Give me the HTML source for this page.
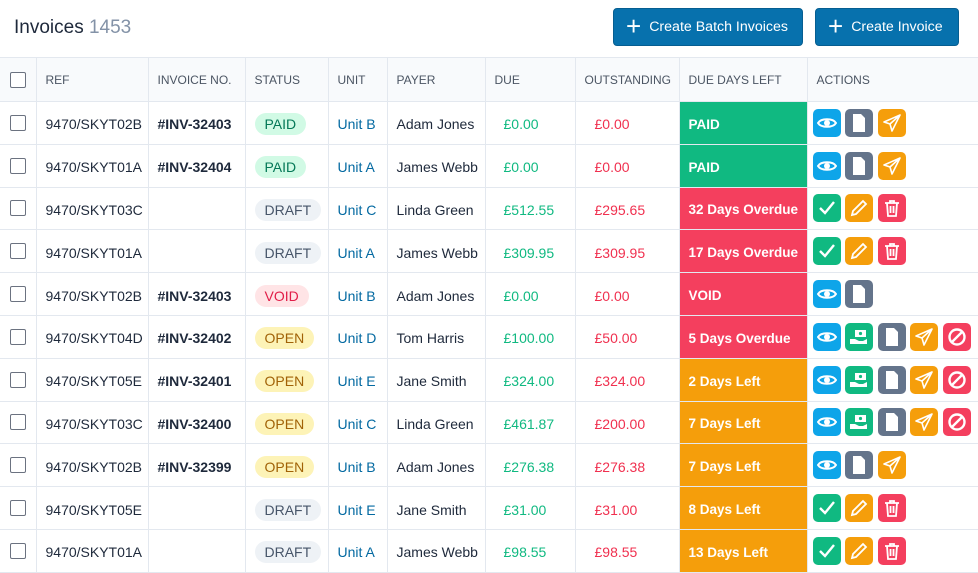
<!DOCTYPE html>
<html><head><meta charset="utf-8"><style>
*{box-sizing:border-box;margin:0;padding:0}
body{width:978px;height:567px;overflow:hidden;background:#fff;font-family:"Liberation Sans",sans-serif;color:#1e293b;position:relative}
.title{position:absolute;left:14px;top:17px;font-size:19px;color:#1e293b}
.title span{color:#8392a7}
.btn{position:absolute;top:8px;height:38px;background:#0771ad;border:1px solid #065e91;border-radius:4px;color:#fff;font-size:14.2px;display:flex;align-items:center;padding-left:12px}
.btn b{font-weight:normal;font-size:26px;margin-right:8px;line-height:1;margin-top:-3px}
table{position:absolute;left:0;top:57px;border-collapse:collapse;table-layout:fixed;width:979px}
td,th{border:1.5px solid #e3e8ef;height:42.8px;font-size:14px;white-space:nowrap;overflow:hidden;padding:3px 0 0 9px;vertical-align:middle}
th{background:#f8fafc;font-weight:normal;color:#4b5563;font-size:12px;text-align:left;height:44px;padding-top:0}
tr td:first-child,tr th:first-child{border-left:none;padding:0 0 0 10px}
.cb{width:16px;height:16px;border:1.5px solid #6b7280;border-radius:2px;background:#fff;display:block}
.b{font-weight:bold}
.pill{display:inline-block;padding:3px 10px;border-radius:12px;font-size:14px}
.paid{background:#d1fae5;color:#047857}.draft{background:#eef2f6;color:#475569}.void{background:#ffe4e6;color:#e11d48}.open{background:#fdf3b7;color:#a16207}
.u{color:#0369a1}
.g{color:#10b981;padding-left:18px}.r{color:#f0304f;padding-left:19px}
td.dd{color:#fff;font-weight:bold;padding-left:9px;font-size:13.5px}
.dg{background:#10b981}.dr{background:#f43f5e}.da{background:#f59e0b}
.ic{display:inline-block;width:28px;height:28px;border-radius:5px;margin-right:4.5px;vertical-align:middle;position:relative}
.ic svg{position:absolute;left:4px;top:4px}
.bl{background:#0ea5e9}.gr{background:#10b981}.sl{background:#64748b}.am{background:#f59e0b}.rd{background:#f43f5e}
td.act{padding:0 0 0 5px}
</style></head><body>
<div class="title">Invoices <span>1453</span></div>
<div class="btn" style="left:613px;width:190px"><b>+</b>Create Batch Invoices</div>
<div class="btn" style="left:815px;width:144px"><b>+</b>Create Invoice</div>
<svg width="0" height="0" style="position:absolute">
<defs>
<symbol id="eye" viewBox="0 0 20 20"><path d="M1 10C4 5 16 5 19 10C16 15 4 15 1 10Z" fill="none" stroke="#fff" stroke-width="2"/><circle cx="10" cy="10" r="3" fill="#fff"/></symbol>
<symbol id="doc" viewBox="0 0 20 20"><path d="M4 1H12L16 5V19H4Z" fill="#fff"/></symbol>
<symbol id="send" viewBox="0 0 20 20"><path d="M18 2L2 9L8 11L10 18Z M8 11L18 2" fill="none" stroke="#fff" stroke-width="1.6" stroke-linejoin="round"/></symbol>
<symbol id="chk" viewBox="0 0 20 20"><path d="M3 10L8 15L17 4" fill="none" stroke="#fff" stroke-width="2.4"/></symbol>
<symbol id="pen" viewBox="0 0 20 20"><path d="M3 17L4 13L14 3L17 6L7 16Z" fill="none" stroke="#fff" stroke-width="1.8"/></symbol>
<symbol id="bin" viewBox="0 0 20 20"><path d="M3 5H17M8 5V3H12V5M5 5L6 18H14L15 5M8.5 8V15M11.5 8V15" fill="none" stroke="#fff" stroke-width="1.8"/></symbol>
<symbol id="ban" viewBox="0 0 20 20"><circle cx="10" cy="10" r="7.5" fill="none" stroke="#fff" stroke-width="2.4"/><path d="M5 15L15 5" stroke="#fff" stroke-width="2.4"/></symbol>
<symbol id="cash" viewBox="0 0 20 20"><rect x="6" y="3" width="11" height="7" fill="#fff"/><circle cx="11.5" cy="6.5" r="1.6" fill="#10b981"/><path d="M1 12H6L10 14H14L18 12V17H1Z" fill="#fff"/></symbol>
</defs></svg>
<table>
<colgroup><col style="width:36px"><col style="width:112px"><col style="width:97px"><col style="width:83px"><col style="width:59px"><col style="width:98px"><col style="width:90px"><col style="width:104px"><col style="width:128px"><col style="width:172px"></colgroup>
<tr><th><span class="cb"></span></th><th>REF</th><th>INVOICE NO.</th><th>STATUS</th><th>UNIT</th><th>PAYER</th><th>DUE</th><th>OUTSTANDING</th><th>DUE DAYS LEFT</th><th>ACTIONS</th></tr>
<tr><td><span class="cb"></span></td><td>9470/SKYT02B</td><td class="b">#INV-32403</td><td><span class="pill paid">PAID</span></td><td class="u">Unit B</td><td>Adam Jones</td><td class="g">£0.00</td><td class="r">£0.00</td><td class="dd dg">PAID</td><td class="act"><span class="ic bl"><svg width="20" height="20"><use href="#eye"/></svg></span><span class="ic sl"><svg width="20" height="20"><use href="#doc"/></svg></span><span class="ic am"><svg width="20" height="20"><use href="#send"/></svg></span></td></tr>
<tr><td><span class="cb"></span></td><td>9470/SKYT01A</td><td class="b">#INV-32404</td><td><span class="pill paid">PAID</span></td><td class="u">Unit A</td><td>James Webb</td><td class="g">£0.00</td><td class="r">£0.00</td><td class="dd dg">PAID</td><td class="act"><span class="ic bl"><svg width="20" height="20"><use href="#eye"/></svg></span><span class="ic sl"><svg width="20" height="20"><use href="#doc"/></svg></span><span class="ic am"><svg width="20" height="20"><use href="#send"/></svg></span></td></tr>
<tr><td><span class="cb"></span></td><td>9470/SKYT03C</td><td></td><td><span class="pill draft">DRAFT</span></td><td class="u">Unit C</td><td>Linda Green</td><td class="g">£512.55</td><td class="r">£295.65</td><td class="dd dr">32 Days Overdue</td><td class="act"><span class="ic gr"><svg width="20" height="20"><use href="#chk"/></svg></span><span class="ic am"><svg width="20" height="20"><use href="#pen"/></svg></span><span class="ic rd"><svg width="20" height="20"><use href="#bin"/></svg></span></td></tr>
<tr><td><span class="cb"></span></td><td>9470/SKYT01A</td><td></td><td><span class="pill draft">DRAFT</span></td><td class="u">Unit A</td><td>James Webb</td><td class="g">£309.95</td><td class="r">£309.95</td><td class="dd dr">17 Days Overdue</td><td class="act"><span class="ic gr"><svg width="20" height="20"><use href="#chk"/></svg></span><span class="ic am"><svg width="20" height="20"><use href="#pen"/></svg></span><span class="ic rd"><svg width="20" height="20"><use href="#bin"/></svg></span></td></tr>
<tr><td><span class="cb"></span></td><td>9470/SKYT02B</td><td class="b">#INV-32403</td><td><span class="pill void">VOID</span></td><td class="u">Unit B</td><td>Adam Jones</td><td class="g">£0.00</td><td class="r">£0.00</td><td class="dd dr">VOID</td><td class="act"><span class="ic bl"><svg width="20" height="20"><use href="#eye"/></svg></span><span class="ic sl"><svg width="20" height="20"><use href="#doc"/></svg></span></td></tr>
<tr><td><span class="cb"></span></td><td>9470/SKYT04D</td><td class="b">#INV-32402</td><td><span class="pill open">OPEN</span></td><td class="u">Unit D</td><td>Tom Harris</td><td class="g">£100.00</td><td class="r">£50.00</td><td class="dd dr">5 Days Overdue</td><td class="act"><span class="ic bl"><svg width="20" height="20"><use href="#eye"/></svg></span><span class="ic gr"><svg width="20" height="20"><use href="#cash"/></svg></span><span class="ic sl"><svg width="20" height="20"><use href="#doc"/></svg></span><span class="ic am"><svg width="20" height="20"><use href="#send"/></svg></span><span class="ic rd"><svg width="20" height="20"><use href="#ban"/></svg></span></td></tr>
<tr><td><span class="cb"></span></td><td>9470/SKYT05E</td><td class="b">#INV-32401</td><td><span class="pill open">OPEN</span></td><td class="u">Unit E</td><td>Jane Smith</td><td class="g">£324.00</td><td class="r">£324.00</td><td class="dd da">2 Days Left</td><td class="act"><span class="ic bl"><svg width="20" height="20"><use href="#eye"/></svg></span><span class="ic gr"><svg width="20" height="20"><use href="#cash"/></svg></span><span class="ic sl"><svg width="20" height="20"><use href="#doc"/></svg></span><span class="ic am"><svg width="20" height="20"><use href="#send"/></svg></span><span class="ic rd"><svg width="20" height="20"><use href="#ban"/></svg></span></td></tr>
<tr><td><span class="cb"></span></td><td>9470/SKYT03C</td><td class="b">#INV-32400</td><td><span class="pill open">OPEN</span></td><td class="u">Unit C</td><td>Linda Green</td><td class="g">£461.87</td><td class="r">£200.00</td><td class="dd da">7 Days Left</td><td class="act"><span class="ic bl"><svg width="20" height="20"><use href="#eye"/></svg></span><span class="ic gr"><svg width="20" height="20"><use href="#cash"/></svg></span><span class="ic sl"><svg width="20" height="20"><use href="#doc"/></svg></span><span class="ic am"><svg width="20" height="20"><use href="#send"/></svg></span><span class="ic rd"><svg width="20" height="20"><use href="#ban"/></svg></span></td></tr>
<tr><td><span class="cb"></span></td><td>9470/SKYT02B</td><td class="b">#INV-32399</td><td><span class="pill open">OPEN</span></td><td class="u">Unit B</td><td>Adam Jones</td><td class="g">£276.38</td><td class="r">£276.38</td><td class="dd da">7 Days Left</td><td class="act"><span class="ic bl"><svg width="20" height="20"><use href="#eye"/></svg></span><span class="ic sl"><svg width="20" height="20"><use href="#doc"/></svg></span><span class="ic am"><svg width="20" height="20"><use href="#send"/></svg></span></td></tr>
<tr><td><span class="cb"></span></td><td>9470/SKYT05E</td><td></td><td><span class="pill draft">DRAFT</span></td><td class="u">Unit E</td><td>Jane Smith</td><td class="g">£31.00</td><td class="r">£31.00</td><td class="dd da">8 Days Left</td><td class="act"><span class="ic gr"><svg width="20" height="20"><use href="#chk"/></svg></span><span class="ic am"><svg width="20" height="20"><use href="#pen"/></svg></span><span class="ic rd"><svg width="20" height="20"><use href="#bin"/></svg></span></td></tr>
<tr><td><span class="cb"></span></td><td>9470/SKYT01A</td><td></td><td><span class="pill draft">DRAFT</span></td><td class="u">Unit A</td><td>James Webb</td><td class="g">£98.55</td><td class="r">£98.55</td><td class="dd da">13 Days Left</td><td class="act"><span class="ic gr"><svg width="20" height="20"><use href="#chk"/></svg></span><span class="ic am"><svg width="20" height="20"><use href="#pen"/></svg></span><span class="ic rd"><svg width="20" height="20"><use href="#bin"/></svg></span></td></tr>
</table>
</body></html>
